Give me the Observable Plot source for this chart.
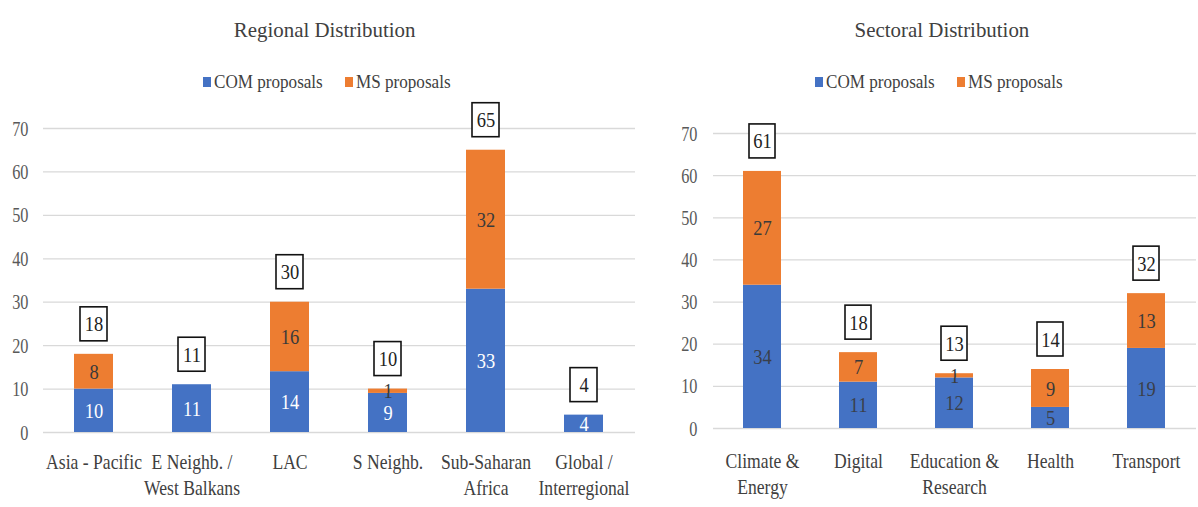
<!DOCTYPE html>
<html><head><meta charset="utf-8">
<script src="https://cdn.jsdelivr.net/npm/d3@7"></script>
<script src="https://cdn.jsdelivr.net/npm/@observablehq/plot@0.6"></script>
<style>
body{margin:0;background:#fff;}
#wrap{position:relative;width:1198px;height:507px;overflow:hidden;font-family:"Liberation Serif",serif;background:#fff;}
#wrap svg, #wrap svg text{font-family:"Liberation Serif",serif !important;}
.title{position:absolute;top:17px;width:400px;font-size:22px;color:#404040;text-align:center;white-space:nowrap;}
.title span{display:inline-block;transform:scaleX(0.95);}
.legend{position:absolute;top:71px;font-size:19px;color:#404040;white-space:nowrap;display:flex;align-items:center;}
.legend span.t{display:inline-block;transform:scaleX(0.9);transform-origin:left center;}
.sw{display:inline-block;width:8px;height:10px;margin-right:3px;}
</style>
</head><body>
<div id="wrap"></div>
<script>
const seriesNames = ["COM proposals", "MS proposals"];
const seriesColors = ["#4472C4", "#ED7D31"];
const yTicks = [0, 10, 20, 30, 40, 50, 60, 70];

const regions = ["Asia - Pacific", "E Neighb. /\nWest Balkans", "LAC", "S Neighb.", "Sub-Saharan\nAfrica", "Global /\nInterregional"];
const regionCOM = [10, 11, 14, 9, 33, 4];
const regionMS = [8, 0, 16, 1, 32, 0];

const sectors = ["Climate &\nEnergy", "Digital", "Education &\nResearch", "Health", "Transport"];
const sectorCOM = [34, 11, 12, 5, 19];
const sectorMS = [27, 7, 1, 9, 13];

const wrap = document.getElementById("wrap");

function addTitle(text, cx) {
  const d = document.createElement("div");
  d.className = "title";
  d.style.left = (cx - 200) + "px";
  const s = document.createElement("span");
  s.textContent = text;
  d.appendChild(s);
  wrap.appendChild(d);
}
function addLegend(x) {
  const d = document.createElement("div");
  d.className = "legend";
  d.style.left = x + "px";
  seriesNames.forEach((s, i) => {
    const sw = document.createElement("span");
    sw.className = "sw";
    sw.style.background = seriesColors[i];
    const t = document.createElement("span");
    t.className = "t";
    t.textContent = s;
    t.style.marginRight = i === 0 ? "10px" : "0";
    d.appendChild(sw); d.appendChild(t);
  });
  wrap.appendChild(d);
}

function makeChart(cats, com, ms, o) {
  const long = [];
  cats.forEach((c, i) => {
    long.push({cat: c, series: seriesNames[0], value: com[i]});
    long.push({cat: c, series: seriesNames[1], value: ms[i]});
  });
  const totals = cats.map((c, i) => ({cat: c, total: com[i] + ms[i]}));
  const label = (s) => (d) => d.series === s && d.value > 0 ? String(d.value) : "";
  const svg = Plot.plot({
    width: o.width, height: 397,
    marginTop: o.mt, marginBottom: 397 - o.y0, marginLeft: o.ml, marginRight: o.mr,
    x: {domain: cats, paddingInner: 0.6, paddingOuter: 0.3, axis: null},
    y: {domain: [0, 70], axis: null},
    color: {domain: seriesNames, range: seriesColors},
    style: {fontFamily: "Liberation Serif, serif", background: "transparent", overflow: "visible"},
    marks: [
      Plot.gridY(yTicks, {stroke: "#d9d9d9", strokeOpacity: 1, strokeWidth: 1.3}),
      Plot.axisY(yTicks, {tickSize: 0, tickPadding: o.tp, fontSize: 22, fill: "#595959"}),
      Plot.axisX({tickSize: 0, tickPadding: o.xp, fontSize: 21, lineHeight: 1.25, fill: "#404040", label: null}),
      Plot.barY(long, {x: "cat", y: "value", fill: "series", order: seriesNames}),
      Plot.text(long, Plot.stackY({x: "cat", y: "value", z: "series", order: seriesNames, text: label(seriesNames[0]), fill: o.comText, fontSize: 22})),
      Plot.text(long, Plot.stackY({x: "cat", y: "value", z: "series", order: seriesNames, text: label(seriesNames[1]), fill: "#3a3a3a", fontSize: 22})),
      Plot.barY(totals, {x: "cat", y1: "total", y2: "total", insetTop: -47, insetBottom: 13, insetLeft: 6, insetRight: 6, fill: "white", stroke: "#111", strokeWidth: 1.6}),
      Plot.text(totals, {x: "cat", y: "total", dy: -30, text: "total", fontSize: 22, fill: "#222"})
    ]
  });
  svg.querySelectorAll("text").forEach(t => {
    const ylab = t.closest('g[aria-label="y-axis tick label"]');
    const s = ylab ? 0.74 : 0.84;
    const tr = t.getAttribute("transform") || "";
    t.setAttribute("transform", tr + ` scale(${s},1)`);
    t.setAttribute("font-family", "Liberation Serif, serif");
  });
  svg.style.position = "absolute";
  svg.style.left = o.left + "px";
  svg.style.top = "110px";
  wrap.appendChild(svg);
}

addTitle("Regional Distribution", 325);
addLegend(203);
addTitle("Sectoral Distribution", 942);
addLegend(815);

makeChart(regions, regionCOM, regionMS, {left: 0, width: 640, mt: 18, y0: 322, ml: 43, mr: 5, tp: 15, xp: 18, comText: "#ffffff"});
makeChart(sectors, sectorCOM, sectorMS, {left: 660, width: 538, mt: 23, y0: 318, ml: 53, mr: 2, tp: 16, xp: 21, comText: "#3a3f4a"});
</script>
</body></html>
